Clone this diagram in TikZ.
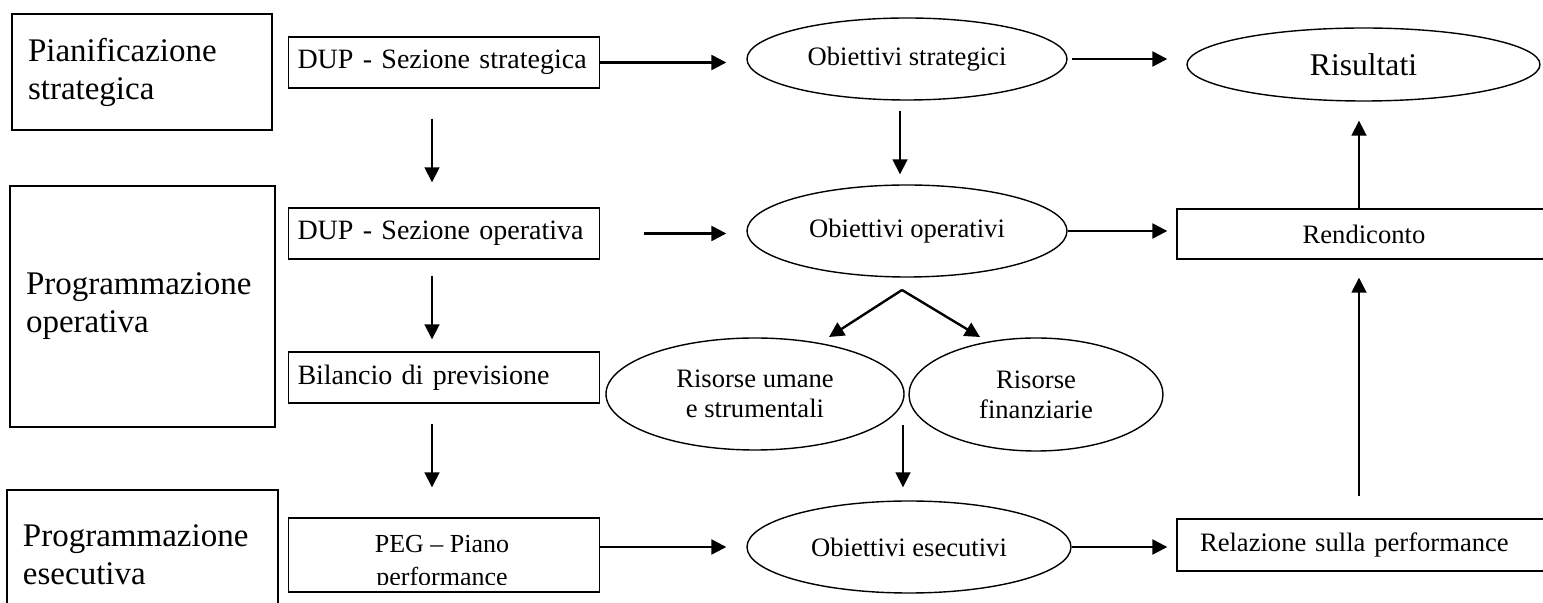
\documentclass[tikz,border=0pt]{standalone}
\usepackage{fontspec}
\setmainfont{Liberation Serif}
\usetikzlibrary{shapes.geometric, arrows.meta, positioning}
\tikzset{
    x=0.5pt, y=-0.5pt, % one unit is one pixel, y runs downwards
    >={Triangle[length=7.5pt,width=7.5pt]}, % solid arrow heads
    phase/.style={draw, line width=0.7pt, align=left, inner xsep=8pt, font=\fontsize{16.5}{19}\selectfont}, % the three planning levels
    doc/.style={draw, line width=0.7pt, text width=146.5pt, inner xsep=4.5pt, minimum height=25.5pt, align=left, font=\fontsize{14}{16}\selectfont}, % documents
    goal/.style={draw, ellipse, line width=0.7pt, inner sep=0pt, align=center, font=\fontsize{13.3}{15}\selectfont}, % objectives
    report/.style={draw, line width=0.7pt, minimum width=187pt, minimum height=25pt, font=\fontsize{13.3}{15}\selectfont}, % reporting
    flow/.style={->, line width=1.2pt},
    vflow/.style={->, line width=0.9pt},
    }
\begin{document}
\begin{tikzpicture}
\useasboundingbox (0,0) rectangle (1543,603);
\clip (0,0) rectangle (1543,603);

% planning levels
\node[phase, text width=114pt, minimum height=58pt] (pian) at (142,72) {Pianificazione\\strategica};
\node[phase, text width=116.5pt, minimum height=120.5pt] (progop) at (142.5,306.5) {Programmazione\\operativa};
\node[phase, text width=119.5pt, minimum height=65pt] (progex) at (142.5,555) {Programmazione\\esecutiva};

% documents
\node[doc] (dups) at (444,62.5) {DUP - Sezione strategica};
\node[doc] (dupo) at (444,233.5) {DUP - Sezione operativa};
\node[doc] (bil) at (444,377.5) {Bilancio di previsione};
\node[doc, minimum height=37pt] (peg) at (444,555) {};
\begin{scope}
\clip ([shift={(1pt,4pt)}]peg.south west) rectangle ([shift={(-1pt,-1pt)}]peg.north east);
\node[font=\fontsize{13}{16.5}\selectfont, align=center, inner sep=0pt] (pegtext) at (442,563) {PEG -- Piano\\performance};
\end{scope}

% objectives
\node[goal, minimum width=160pt, minimum height=41pt] (obs) at (907,59) {Obiettivi strategici};
\node[goal, minimum width=160pt, minimum height=46pt] (obo) at (907,231) {Obiettivi operativi};
\node[goal, minimum width=149pt, minimum height=56pt] (rum) at (755,394) {Risorse umane\\e strumentali};
\node[goal, minimum width=127pt, minimum height=56.5pt] (rfi) at (1036,394.5) {Risorse\\finanziarie};
\node[goal, minimum width=162pt, minimum height=46pt] (obe) at (909,547) {Obiettivi esecutivi};
\node[goal, minimum width=176.5pt, minimum height=36.5pt, font=\fontsize{15.8}{18}\selectfont] (ris) at (1363.5,64.5) {Risultati};

% reporting
\node[report] (rend) at (1364,234) {Rendiconto};
\node[report, minimum height=26pt, text width=164pt, inner xsep=11.5pt, align=left] (rel) at (1364,545) {Relazione sulla performance};

\coordinate (fork) at (902,290);
\coordinate (forkl) at (829,337);
\coordinate (forkr) at (980,337);
\coordinate (join) at (903,425);

\draw (dups.east) edge[flow, shorten >=10pt] (dups.east -| obs.west)
      (dupo.east) edge[flow, shorten <=22pt, shorten >=10pt] (dupo.east -| obo.west)
      (obe.west -| peg.east) edge[flow, shorten >=10pt] (obe.west)
      (obs.east) edge[flow, shorten <=2pt, shorten >=9.5pt] (obs.east -| ris.west)
      (obo.east) edge[flow, shorten >=4.5pt] (obo.east -| rend.west)
      (obe.east) edge[flow, shorten >=4.5pt] (obe.east -| rel.west);

\draw ([xshift=-6pt]dups.south) edge[vflow, shorten <=15pt, shorten >=12.5pt] ([xshift=-6pt]dupo.north)
      ([xshift=-6pt]dupo.south) edge[vflow, shorten <=8pt, shorten >=6pt] ([xshift=-6pt]bil.north)
      ([xshift=-6pt]bil.south) edge[vflow, shorten <=10pt, shorten >=15pt] ([xshift=-6pt]peg.north)
      ([xshift=-3.5pt]obs.south) edge[vflow, shorten <=5pt, shorten >=5pt] ([xshift=-3.5pt]obo.north)
      (fork) edge[flow] (forkl)
      (fork) edge[flow] (forkr)
      (join) edge[vflow, shorten >=6.5pt] (join |- obe.north)
      ([xshift=-2.5pt]rend.north) edge[vflow, shorten >=9.5pt] ([xshift=-2.5pt]rend.north |- ris.south)
      ([xshift=-2.5pt]rel.north) edge[vflow, shorten <=11pt, shorten >=9pt] ([xshift=-2.5pt]rel.north |- rend.south);

\end{tikzpicture}
\end{document}
